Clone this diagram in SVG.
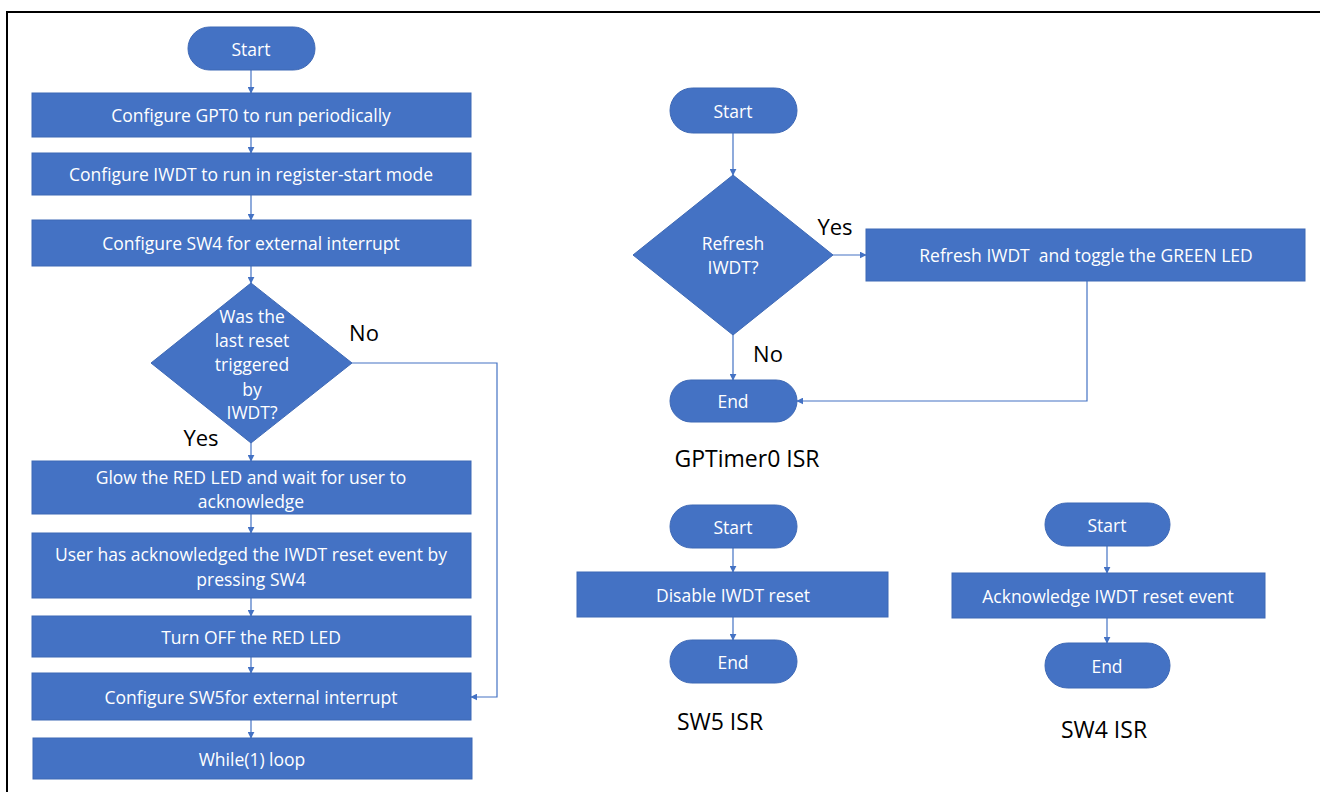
<svg xmlns="http://www.w3.org/2000/svg" width="1320" height="792" viewBox="0 0 1320 792">
<defs>
<marker id="ah" viewBox="0 0 10 10" refX="9" refY="5" markerWidth="7" markerHeight="7" orient="auto" markerUnits="userSpaceOnUse"><path d="M0,0 L10,5 L0,10 z" fill="#4472C4"/></marker>
<style>
.n{fill:#4472C4;stroke:#3D68B5;stroke-width:1}
.t{fill:#fff;font-family:"Open Sans","Liberation Sans",sans-serif;font-size:17.5px;text-anchor:middle;dominant-baseline:central}
.l{fill:#000;font-family:"Open Sans","Liberation Sans",sans-serif;font-size:22px;text-anchor:middle;dominant-baseline:central}
.c{fill:none;stroke:#4472C4;stroke-width:1.2;marker-end:url(#ah)}
</style>
</defs>
<rect x="0" y="0" width="1320" height="792" fill="#fff"/>
<path d="M7,792 V12 H1320" fill="none" stroke="#000" stroke-width="2"/>

<g id="connectors">
<path class="c" d="M251,70 V93"/>
<path class="c" d="M251,137 V153"/>
<path class="c" d="M251,195 V220"/>
<path class="c" d="M251,266 V283"/>
<path class="c" d="M251,443 V461"/>
<path class="c" d="M251,514 V533"/>
<path class="c" d="M251,598 V616"/>
<path class="c" d="M251,657 V673"/>
<path class="c" d="M251,720 V738"/>
<path class="c" d="M352,363 H497 V697 H471"/>
<path class="c" d="M733,133 V175"/>
<path class="c" d="M833,255 H866"/>
<path class="c" d="M733,335 V380"/>
<path class="c" d="M1087,281 V401 H797"/>
<path class="c" d="M733,548 V572"/>
<path class="c" d="M733,617 V640"/>
<path class="c" d="M1107,546 V573"/>
<path class="c" d="M1107,618 V643"/>
</g>

<g id="main-start"><rect class="n" x="188" y="27" width="127" height="43" rx="21.5"/><text class="t" x="251" y="48.5">Start</text></g>
<g id="cfg-gpt0"><rect class="n" x="32" y="93" width="439" height="44"/><text class="t" x="251" y="115">Configure GPT0 to run periodically</text></g>
<g id="cfg-iwdt"><rect class="n" x="32" y="153" width="439" height="42"/><text class="t" x="251" y="174">Configure IWDT to run in register-start mode</text></g>
<g id="cfg-sw4"><rect class="n" x="32" y="220" width="439" height="46"/><text class="t" x="251" y="243">Configure SW4 for external interrupt</text></g>
<g id="dec-reset"><polygon class="n" points="251,283 352,363 251,443 151,363"/>
<text class="t" x="252" y="316">Was the</text><text class="t" x="252" y="340">last reset</text><text class="t" x="252" y="364">triggered</text><text class="t" x="252" y="389">by</text><text class="t" x="252" y="412">IWDT?</text></g>
<text class="l" x="364" y="332">No</text>
<text class="l" x="201" y="437">Yes</text>
<g id="glow-red"><rect class="n" x="32" y="461" width="439" height="53"/><text class="t" x="251" y="477">Glow the RED LED and wait for user to</text><text class="t" x="251" y="501">acknowledge</text></g>
<g id="user-ack"><rect class="n" x="32" y="533" width="439" height="65"/><text class="t" x="251" y="554">User has acknowledged the IWDT reset event by</text><text class="t" x="251" y="579">pressing SW4</text></g>
<g id="turn-off"><rect class="n" x="32" y="616" width="439" height="41"/><text class="t" x="251" y="636.5">Turn OFF the RED LED</text></g>
<g id="cfg-sw5"><rect class="n" x="32" y="673" width="439" height="47"/><text class="t" x="251" y="697">Configure SW5for external interrupt</text></g>
<g id="while-loop"><rect class="n" x="33" y="738" width="439" height="41"/><text class="t" x="252" y="758.5">While(1) loop</text></g>

<g id="gpt-start"><rect class="n" x="670" y="88" width="127" height="45" rx="22.5"/><text class="t" x="733" y="110.5">Start</text></g>
<g id="gpt-dec"><polygon class="n" points="733,175 833,255 733,335 633,255"/><text class="t" x="733" y="243">Refresh</text><text class="t" x="733" y="267">IWDT?</text></g>
<text class="l" x="835" y="226">Yes</text>
<text class="l" x="768" y="353">No</text>
<g id="gpt-refresh"><rect class="n" x="866" y="229" width="439" height="52"/><text class="t" x="1086" y="255" style="white-space:pre">Refresh IWDT  and toggle the GREEN LED</text></g>
<g id="gpt-end"><rect class="n" x="670" y="380" width="127" height="42" rx="21"/><text class="t" x="733" y="401">End</text></g>
<text class="l" x="747" y="458" style="font-size:23px">GPTimer0 ISR</text>

<g id="sw5-start"><rect class="n" x="670" y="505" width="127" height="43" rx="21.5"/><text class="t" x="733" y="527">Start</text></g>
<g id="sw5-disable"><rect class="n" x="577" y="572" width="311" height="45"/><text class="t" x="733" y="595">Disable IWDT reset</text></g>
<g id="sw5-end"><rect class="n" x="670" y="640" width="127" height="43" rx="21.5"/><text class="t" x="733" y="661.5">End</text></g>
<text class="l" x="720" y="721" style="font-size:23px">SW5 ISR</text>

<g id="sw4-start"><rect class="n" x="1045" y="503" width="125" height="43" rx="21.5"/><text class="t" x="1107" y="524.5">Start</text></g>
<g id="sw4-ack"><rect class="n" x="952" y="573" width="313" height="45"/><text class="t" x="1108" y="596">Acknowledge IWDT reset event</text></g>
<g id="sw4-end"><rect class="n" x="1045" y="643" width="125" height="45" rx="22.5"/><text class="t" x="1107" y="665.5">End</text></g>
<text class="l" x="1104" y="729" style="font-size:23px">SW4 ISR</text>
</svg>
